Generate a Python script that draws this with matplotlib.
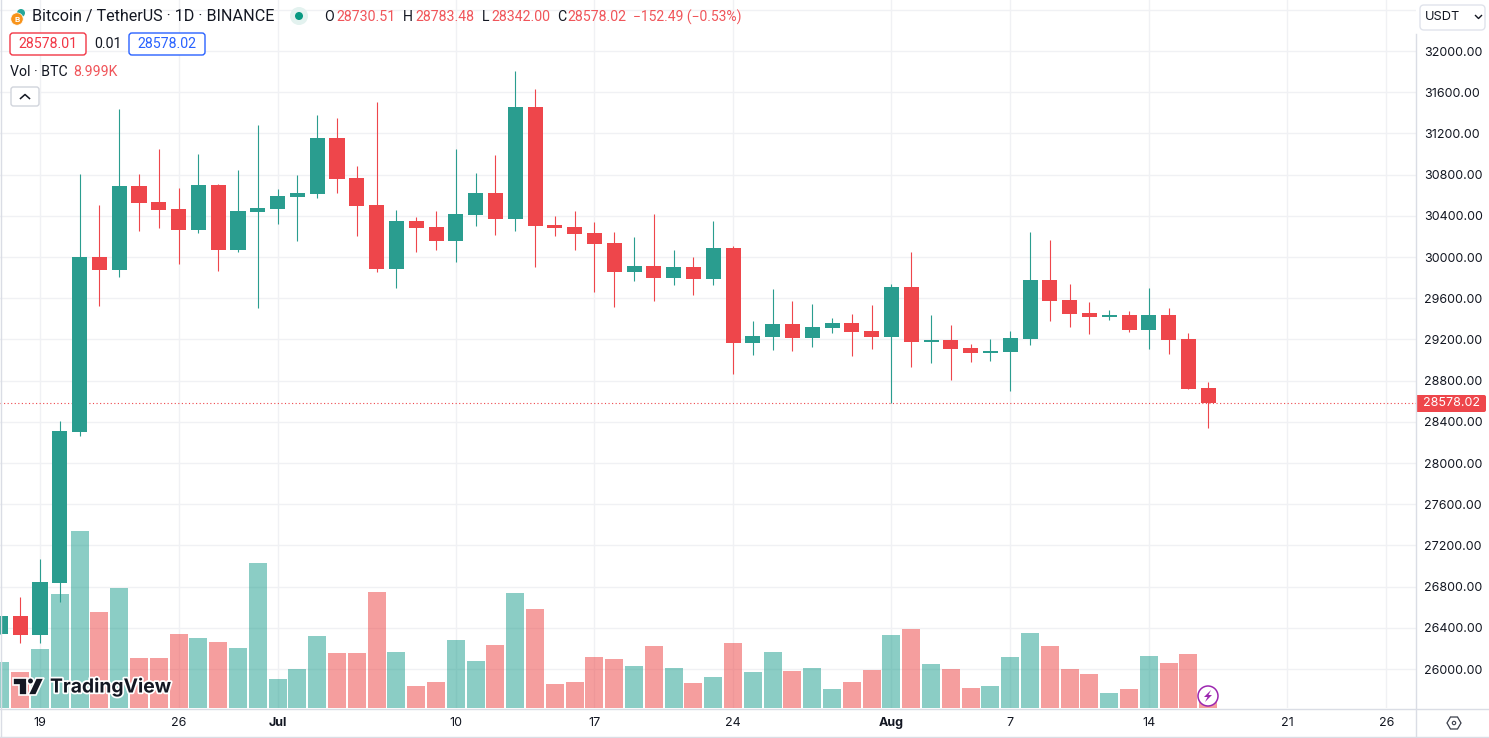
import matplotlib
matplotlib.use("Agg")
import matplotlib.pyplot as plt
from matplotlib.patches import Circle, FancyBboxPatch, Polygon, Rectangle
import matplotlib.patheffects as pe

plt.rcParams['font.family'] = ['Inter', 'DejaVu Sans']

opens = [26340,26515,26330,26835,28301,30000,29874,30689,30534,30466,30262,30699,30068,30437,30466,30583,
         30612,31155,30767,30505,29883,30350,30291,30155,30408,30621,30369,31456,30311,30291,30233,30136,
         29854,29913,29796,29903,29786,30087,29165,29223,29350,29214,29311,29359,29282,29223,29709,29175,
         29194,29117,29068,29078,29204,29777,29583,29456,29417,29437,29291,29437,29204,28730.51]
highs = [26515,26699,27068,28408,30806,30505,31437,30806,31049,30670,31000,30709,30845,31282,30660,30796,
         31379,31350,30883,31505,30456,30388,30447,31049,30816,30990,31806,31631,30398,30447,30340,30243,
         30194,30417,30068,30000,30350,30107,29379,29689,29573,29544,29408,29447,29534,29738,30049,29437,
         29340,29155,29204,29282,30243,30165,29738,29563,29485,29476,29699,29505,29262,28783.48]
lows = [26340,26252,26252,26650,28262,29524,29806,30252,30282,29932,30233,29864,30049,29505,30320,30155,
        30573,30621,30204,29854,29699,30049,30068,29951,30301,30214,30252,29903,30204,30068,29660,29515,
        29767,29573,29728,29631,29728,28864,29049,29097,29087,29126,29262,29039,29107,28582,28932,28971,
        28806,28981,28990,28699,29146,29379,29320,29252,29388,29272,29107,29058,28718,28342.00]
closes = [26515,26330,26845,28311,30000,29874,30689,30524,30456,30262,30699,30068,30447,30476,30592,30621,
          31155,30757,30495,29883,30350,30282,30155,30417,30621,30369,31456,30301,30282,30223,30126,29854,
          29913,29796,29903,29786,30087,29165,29233,29350,29214,29320,29359,29272,29223,29709,29175,29194,
          29107,29068,29087,29214,29777,29573,29447,29417,29437,29291,29437,29194,28718,28578.02]
volumes_k = [69,54,88.5,171,265.5,144,180,75,75,111,105,99,90,217.5,43.5,58.5,
             108,82.5,82.5,174,84,33,39,102,70.5,94.5,172.5,148.5,36,39,76.5,73.5,
             63,93,60,37.5,46.5,97.5,54,84,55.5,60,28.5,39,57,109.5,118.5,66,
             58.5,30,33,76.5,112.5,93,58.5,51,22.5,28.5,78,67.5,81,9.0]
price_ticks = [26000,26400,26800,27200,27600,28000,28400,28800,29200,29600,30000,30400,30800,31200,31600,32000]
x_tick_days = [2,9,14,23,30,37,45,51,58,65,70]
x_tick_labels = ['19','26','Jul','10','17','24','Aug','7','14','21','26']
last_price = 28578.02

GREEN = '#2A9D8F'
RED = '#EE464B'
VGREEN = '#189C8C'
VRED = '#ED3F3F'
GRID = '#F0F1F4'
BORDER = '#DADDE5'
TXT = '#131722'
ROBOTO = ['Roboto', 'DejaVu Sans']

W, H = 1489, 738
fig = plt.figure(figsize=(W/100, H/100), dpi=100, facecolor='white')
rect = [0, (H-708)/H, 1416/W, 708/H]
xlim = (-0.02, 71.49)
ylim = (25621.36, 32495.15)

ax = fig.add_axes(rect, zorder=1)
ax.set_xlim(xlim); ax.set_ylim(ylim)
ax.set_yticks(price_ticks + [32400])
ax.set_yticklabels([f'{p:.2f}' for p in price_ticks] + [''])
ax.yaxis.tick_right()
ax.set_xticks(x_tick_days)
ax.set_xticklabels(x_tick_labels)
ax.tick_params(axis='both', length=0, labelsize=9.0, labelcolor=TXT)
ax.tick_params(axis='y', pad=5.6)
ax.tick_params(axis='x', pad=6.4)
for lb in ax.get_xticklabels():
    if lb.get_text() in ('Jul', 'Aug'):
        lb.set_fontweight('bold')
ax.grid(True, color=GRID, lw=1.0)
ax.set_axisbelow(True)
for s in ('top', 'right', 'left', 'bottom'):
    ax.spines[s].set_visible(False)

days = list(range(len(opens)))

axv = fig.add_axes(rect, zorder=2)
axv.patch.set_visible(False)
axv.set_xlim(xlim); axv.set_ylim(0, 708*1.5)
axv.axis('off')
for d, o, c, v in zip(days, opens, closes, volumes_k):
    axv.bar(d, v, width=0.91, color=VGREEN if c >= o else VRED, alpha=0.5, lw=0)

axc = fig.add_axes(rect, zorder=3)
axc.patch.set_visible(False)
axc.set_xlim(xlim); axc.set_ylim(ylim)
axc.axis('off')
for d, o, h, l, c in zip(days, opens, highs, lows, closes):
    col = GREEN if c >= o else RED
    axc.vlines(d, l, h, color=col, lw=0.8, zorder=2)
    axc.bar(d, abs(c-o), bottom=min(o, c), width=0.76, color=col, lw=0, zorder=3)
axc.axhline(last_price, color=RED, lw=0.8, ls=(0, (1, 2.2)), zorder=1)

# pixel-space overlay for the chart's furniture
ov = fig.add_axes([0, 0, 1, 1], zorder=4)
ov.patch.set_visible(False)
ov.set_xlim(0, W); ov.set_ylim(H, 0)
ov.axis('off')

ov.plot([1416, 1416], [34, 736], color=BORDER, lw=1.0)
ov.plot([0.5, 0.5], [0, 736], color=BORDER, lw=1.0)
ov.plot([0, 1489], [736.5, 736.5], color=BORDER, lw=1.0)
ov.plot([0, 1489], [708.5, 708.5], color=BORDER, lw=1.0)


def t(x, y, s, color=TXT, size=10.2, ha='left', family=ROBOTO, **kw):
    return ov.text(x, y, s, color=color, fontsize=size, ha=ha, va='center', family=family, **kw)


def box(x0, y0, x1, y1, ec, fc='white', r=3.0, lw=1.0):
    ov.add_patch(FancyBboxPatch((x0+r, y0+r), x1-x0-2*r, y1-y0-2*r,
                                boxstyle=f'round,pad={r},rounding_size={r}',
                                ec=ec, fc=fc, lw=lw))


# title row
ov.add_patch(Circle((21, 13), 4, fc='#26A69A', lw=0))
ov.add_patch(Circle((17, 19), 6.2, fc='#F7931A', ec='white', lw=0.5))
t(17, 19, 'B', color='white', size=6, ha='center', fontweight='bold')
t(32, 16, 'Bitcoin / TetherUS · 1D · BINANCE', size=11.6)
ov.add_patch(Circle((299, 16), 9, fc='#E3F2EF', lw=0))
ov.add_patch(Circle((299, 16), 4, fc='#089981', lw=0))
REDT = '#F0555A'
t(324, 17, 'O'); t(336, 17, '28730.51', REDT)
t(403, 17, 'H'); t(415, 17, '28783.48', REDT)
t(482, 17, 'L'); t(491, 17, '28342.00', REDT)
t(557, 17, 'C'); t(567, 17, '28578.02', REDT)
t(633, 17, '\u2212152.49 (\u22120.53%)', REDT, 10.0)

box(10, 33, 86, 55, '#F23645')
t(48, 44, '28578.01', '#F23645', ha='center')
t(94, 44, '0.01')
box(129, 33, 205, 55, '#2962FF')
t(167, 44, '28578.02', '#2962FF', ha='center')
t(10, 72, 'Vol · BTC')
t(73, 72, '8.999K', REDT)
box(11, 87, 39, 106, '#D1D4DC', r=2.5)
ov.plot([20.5, 25, 29.5], [98.5, 94.5, 98.5], color=TXT, lw=1.1)

# USDT selector
box(1420, 5, 1485, 30, '#E0E3EB', r=4)
t(1425, 17, 'USDT', size=9.2, family=['Inter', 'DejaVu Sans'])
ov.plot([1475.5, 1478.5, 1481.5], [15.5, 18.5, 15.5], color=TXT, lw=1.0)

# last-price tag
ov.add_patch(FancyBboxPatch((1418, 397), 66, 13, boxstyle='round,pad=2,rounding_size=2', fc=RED, lw=0))
ov.add_patch(Rectangle((1416, 395), 5, 17, fc=RED, lw=0))
t(1452, 403.5, '28578.02', 'white', 9.0, ha='center', family=['Inter', 'DejaVu Sans'])

# settings icon
ov.add_patch(Polygon([(1447, 723), (1450.5, 717), (1457.5, 717), (1461, 723), (1457.5, 729), (1450.5, 729)],
                     closed=True, fc='none', ec='#3A3E4A', lw=0.9))
ov.add_patch(Circle((1454, 723), 1.7, fc='none', ec='#3A3E4A', lw=0.8))

# lightning marker
ov.add_patch(Circle((1208, 696), 10, fc='white', ec='#9C27B0', lw=1.1))
ov.add_patch(Polygon([(1211, 690), (1204, 697), (1207.5, 697), (1205, 702), (1212, 695), (1208.5, 695)],
                     closed=True, fc='#9C27B0', lw=0))

# logo
halo = [pe.withStroke(linewidth=2.5, foreground='white')]
logo = dict(fc='#131722', ec='white', lw=1.2, zorder=5)
ov.add_patch(Polygon([(13, 678), (27, 678), (27, 695), (19, 695), (19, 685), (13, 685)], closed=True, **logo))
ov.add_patch(Circle((30.5, 681), 3.3, **logo))
ov.add_patch(Polygon([(36, 678), (44, 678), (36, 695), (28, 695)], closed=True, **logo))
t(50, 687, 'TradingView', size=13.9, fontweight='bold', path_effects=halo, zorder=5, family=['Inter', 'DejaVu Sans'])

fig.savefig('out.png', dpi=100, facecolor='white')
